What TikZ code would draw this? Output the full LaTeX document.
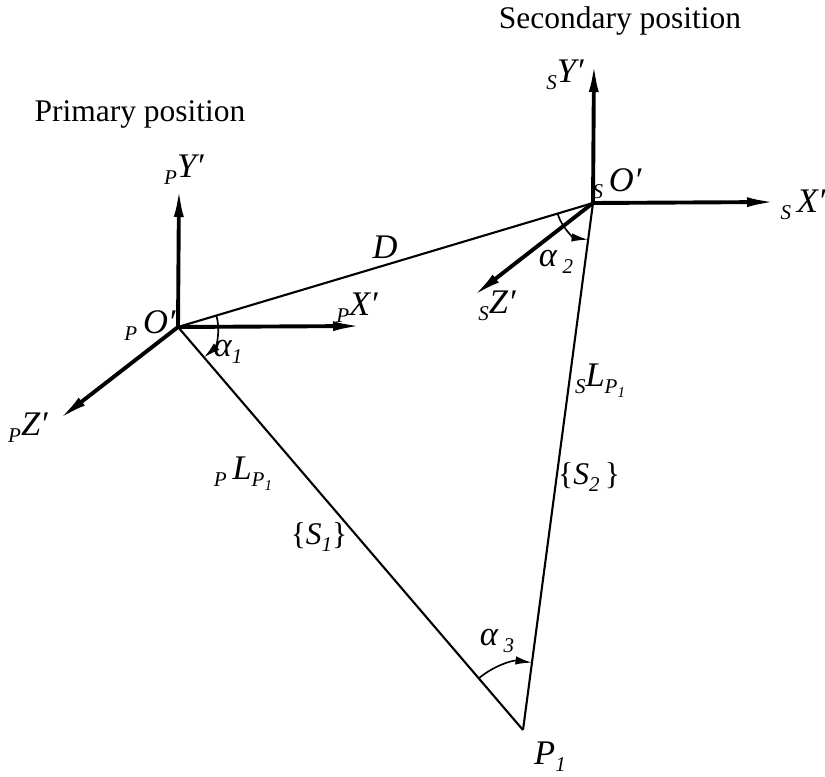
\documentclass[tikz,border=0pt]{standalone}
\usepackage{fontspec}
\setmainfont{Liberation Serif}
\usetikzlibrary{arrows.meta, calc}
\newcommand{\lo}[1]{\raisebox{-0.45ex}{\scriptsize #1}}
\newcommand{\loo}[1]{\raisebox{-0.4ex}{\tiny #1}}
\newcommand{\pre}[2]{\lo{\textit{#1}}\textit{#2}}

\begin{document}
\begin{tikzpicture}[
    x=0.3333pt, y=-0.3333pt,
    >={Latex[length=10pt,width=3.3pt]},
    axis/.style={->, line width=1.3pt},
    side/.style={line width=0.7pt},
    ang/.style={-{Latex[length=5.5pt,width=2.8pt]}, line width=0.55pt},
    every node/.style={inner sep=0pt, font=\fontsize{10.5}{12}\selectfont},
    lbl/.style={font=\fontsize{11.5}{13}\selectfont\itshape}
]
\useasboundingbox (0,0) rectangle (825,776);

% ========== Points ==========
\coordinate (pO) at (178,327);
\coordinate (sO) at (593,203);
\coordinate (P1) at (523,730);

% axis tips
\coordinate (pY) at (179,187);
\coordinate (pX) at (363,326);
\coordinate (pZ) at (58,420);
\coordinate (sY) at (594,62);
\coordinate (sX) at (777,202);
\coordinate (sZ) at (472,297);

% ========== Titles ==========
\node (prim) at (140,114) {Primary position};
\node (sec) at (620,21) {Secondary position};

% ========== Triangle ==========
\draw[side] (pO) -- (sO);
\draw[side] (pO) -- (P1);
\draw[side] (sO) -- (P1);

% ========== Axes ==========
\draw[axis] (pO) -- (pY);
\draw[axis] (pO) -- (pX);
\draw[axis] (pO) -- (pZ);
\draw[axis] (sO) -- (sY);
\draw[axis] (sO) -- (sX);
\draw[axis] (sO) -- (sZ);

% ========== Angles ==========
\draw[ang] ($(pO)+(-16.6:40)$) arc[start angle=-16.6, end angle=49.4, radius=40];
\draw[ang] ($(sO)+(163.4:37)$) arc[start angle=163.4, end angle=97.6, radius=37];
\draw[ang] ($(P1)+(-130.6:68)$) arc[start angle=-130.6, end angle=-82.4, radius=68];

% ========== Labels ==========
\node[lbl] (pYl) at (184,170) {\pre{P}{Y′}};
\node[lbl] (pOl) at (150,326) {\pre{P}{\,O′}};
\node[lbl] (pXl) at (357,308) {\pre{P}{X′}};
\node[lbl] (pZl) at (28,428) {\pre{P}{Z′}};
\node[lbl] (Dl) at (385,247) {D};

\node[lbl] (sYl) at (565,75) {\pre{S}{Y′}};
\node[lbl] (sOl) at (617,184) {\pre{S}{\,O′}};
\node[lbl] (sXl) at (803,205) {\pre{S}{\,X′}};
\node[lbl] (sZl) at (497,306) {\pre{S}{Z′}};

\node[lbl] (a1) at (228,352) {α\lo{\textit{1}}};
\node[lbl] (a2) at (556,262) {α\,\lo{\textit{2}}};
\node[lbl] (a3) at (497,641) {α\,\lo{\textit{3}}};

\node[lbl] (pL) at (243,474) {\pre{P}{\,L}\lo{\textit{P}\loo{\textit{1}}}};
\node (S1) at (319,537) {\{\textit{S}\lo{\textit{1}}\}};
\node[lbl] (sL) at (600,381) {\pre{S}{L}\lo{\textit{P}\loo{\textit{1}}}};
\node (S2) at (589,477) {\{\textit{S}\lo{\textit{2}}\,\}};
\node[lbl] (P1l) at (550,757) {P\lo{\textit{1}}};

\end{tikzpicture}
\end{document}
